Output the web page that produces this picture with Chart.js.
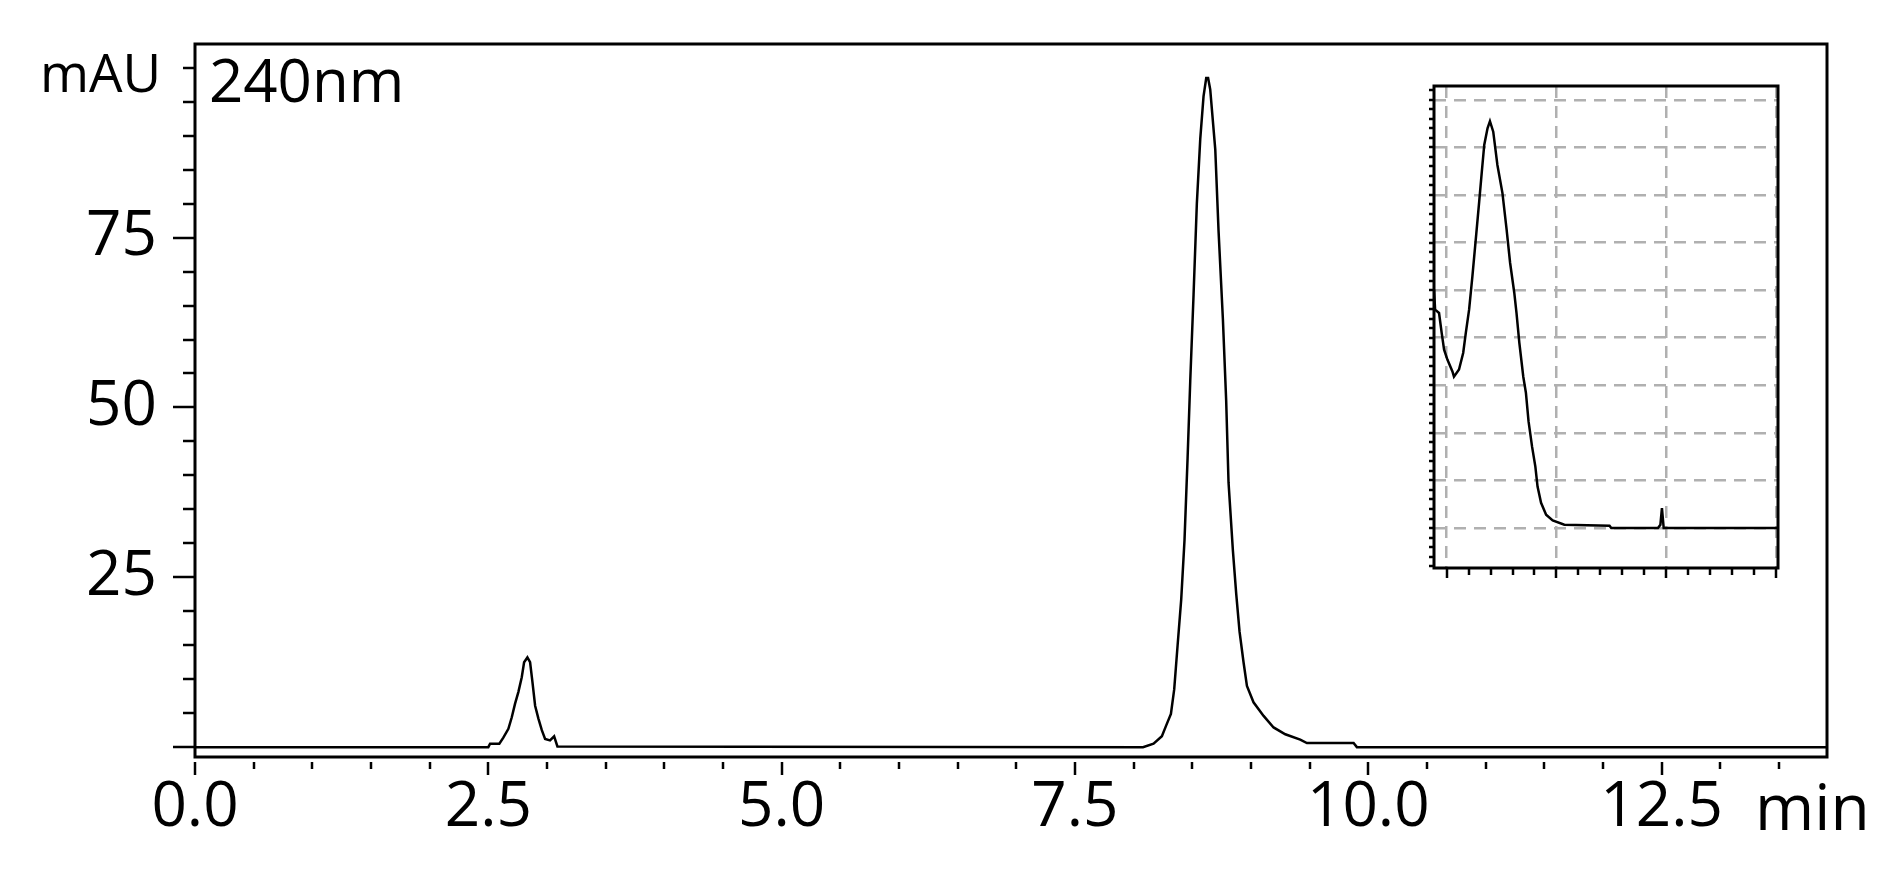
<!DOCTYPE html>
<html>
<head>
<meta charset="utf-8">
<script src="https://cdn.jsdelivr.net/npm/chart.js@4.4.1/dist/chart.umd.min.js"></script>
<style>
    body { margin: 0; background: #fff; }
    #wrap { position: relative; width: 1903px; height: 873px; }
    #inset { position: absolute; left: 1400px; top: 56px; }
</style>
</head>
<body>
<div id="wrap">
    <canvas id="main" width="1903" height="873"></canvas>
    <canvas id="inset" width="420" height="540"></canvas>
</div>
<script>
// chromatogram at 240 nm (min, mAU)
const retentionTime = [0, 2.50, 2.515, 2.594, 2.628, 2.671, 2.700, 2.728, 2.756, 2.785,
    2.805, 2.833, 2.856, 2.876, 2.899, 2.927, 2.956, 2.984, 3.026, 3.061,
    3.089, 8.08, 8.170, 8.241, 8.278, 8.318, 8.346, 8.375, 8.406, 8.434,
    8.460, 8.483, 8.511, 8.539, 8.568, 8.596, 8.619, 8.635, 8.653, 8.696,
    8.724, 8.761, 8.789, 8.809, 8.846, 8.875, 8.903, 8.937, 8.966, 9.022,
    9.108, 9.193, 9.293, 9.420, 9.477, 9.875, 9.903, 13.91];
const absorbance = [0, 0, 0.5, 0.5, 1.4, 2.7, 4.4, 6.4, 8.1, 10.3,
    12.5, 13.2, 12.5, 9.6, 6.1, 4.2, 2.5, 1.2, 1.0, 1.6,
    0.1, 0, 0.5, 1.6, 3.2, 4.9, 8.5, 15, 21.8, 30.5,
    42.5, 54, 66.6, 80, 89.5, 95.8, 98.5, 98.5, 96.8, 88,
    76, 63, 51, 39, 29, 22.5, 17, 12.5, 9, 6.6,
    4.6, 2.9, 1.9, 1.1, 0.6, 0.6, 0, 0];

// spectrum shown in the inset (nm, mAU)
const spectrumNm = [194.2, 194.7, 196.5, 197.7, 198.8, 200.3, 202.6, 203.3, 205.6, 207.5,
    208.7, 210.2, 211.7, 213.5, 214.8, 216.0, 217.1, 218.6, 219.7, 221.2,
    223.1, 225.4, 227.3, 228.9, 230.8, 231.8, 233.1, 234.9, 236.1, 237.3,
    238.9, 240.4, 241.4, 243.0, 245.3, 248.3, 253.6, 274.2, 275.0, 296.3,
    297.4, 298.1, 298.9, 351];
const spectrumAbs = [50.1, 45.9, 45.2, 41.0, 37.5, 35.4, 32.9, 31.8, 33.3, 36.8,
    41.0, 45.9, 52.9, 62.0, 68.6, 74.9, 80.5, 84.0, 85.5, 83.3,
    76.3, 70.4, 62.7, 55.7, 49.4, 45.2, 38.9, 31.8, 28.4, 22.4,
    17.1, 12.9, 8.7, 5.3, 2.8, 1.6, 0.7, 0.5, 0, 0,
    0.7, 4.2, 0, 0];

// tick labels
const xTickLabels = [0, 2.5, 5, 7.5, 10, 12.5];
const yTickLabels = [25, 50, 75];
const insetGridNm = [200, 250, 300, 350];
const insetGridAbs = [0, 10, 20, 30, 40, 50, 60, 70, 80, 90];

Chart.defaults.font.family = "'Open Sans', sans-serif";
Chart.defaults.color = '#000';

const FONT = "'Open Sans', sans-serif";

function tickLine(ctx, x1, y1, x2, y2) {
    ctx.beginPath();
    ctx.moveTo(x1, y1);
    ctx.lineTo(x2, y2);
    ctx.stroke();
}

// keep the plot box where the picture has it
function fixWidth(w) {
    return s => { s.width = w; s.paddingTop = 0; s.paddingBottom = 0; };
}
function fixHeight(h) {
    return s => { s.height = h; s.paddingLeft = 0; s.paddingRight = 0; };
}

// box, tick marks and the loose texts of the main chart
const mainFrame = {
    id: 'mainFrame',
    afterDraw(chart) {
        const { ctx, chartArea: a, scales: { x, y } } = chart;
        ctx.save();
        ctx.strokeStyle = '#000';
        ctx.lineWidth = 3;
        ctx.strokeRect(a.left, a.top, a.right - a.left, a.bottom - a.top);

        ctx.lineWidth = 2.5;
        for (let v = 0; v <= x.max; v += 0.5) {
            const px = Math.round(x.getPixelForValue(v));
            const len = xTickLabels.includes(v) ? 13 : 7;
            tickLine(ctx, px, a.bottom + 5, px, a.bottom + 5 + len);
        }
        for (let v = 0; v <= 100; v += 5) {
            const py = Math.round(y.getPixelForValue(v));
            const len = (v % 25 === 0 && v < 100) ? 22 : 12;
            tickLine(ctx, a.left - len, py, a.left, py);
        }

        ctx.fillStyle = '#000';
        ctx.textBaseline = 'alphabetic';
        ctx.font = '53px ' + FONT;
        ctx.fillText('mAU', 40, 92);
        ctx.font = '60px ' + FONT;
        ctx.fillText('240nm', 209, 102);
        ctx.font = '64px ' + FONT;
        ctx.fillText('min', 1755, 830);
        ctx.restore();
    }
};

new Chart(document.getElementById('main'), {
    type: 'line',
    data: {
        datasets: [{
            data: retentionTime.map((t, i) => ({ x: t, y: absorbance[i] })),
            borderColor: '#000',
            borderWidth: 2.5,
            pointRadius: 0,
            tension: 0
        }]
    },
    options: {
        responsive: false,
        animation: false,
        events: [],
        layout: { padding: { top: 44, right: 76, left: 0, bottom: 0 } },
        plugins: { legend: { display: false }, tooltip: { enabled: false } },
        scales: {
            x: {
                type: 'linear',
                min: 0,
                max: 13.91,
                afterBuildTicks: s => { s.ticks = xTickLabels.map(v => ({ value: v })); },
                afterFit: fixHeight(116),
                grid: { display: false },
                border: { display: false },
                ticks: {
                    maxRotation: 0,
                    autoSkip: false,
                    padding: 6,
                    font: { size: 62 },
                    callback: v => v.toFixed(1)
                }
            },
            y: {
                min: -1.45,
                max: 103.5,
                afterBuildTicks: s => { s.ticks = yTickLabels.map(v => ({ value: v })); },
                afterFit: fixWidth(195),
                grid: { display: false },
                border: { display: false },
                ticks: { padding: 30, font: { size: 62 } }
            }
        }
    },
    plugins: [mainFrame]
});

// frame and small ticks of the inset
const insetFrame = {
    id: 'insetFrame',
    beforeDraw(chart) {
        const { ctx, chartArea: a } = chart;
        ctx.save();
        ctx.fillStyle = '#fff';
        ctx.fillRect(a.left, a.top, a.right - a.left, a.bottom - a.top);
        ctx.restore();
    },
    afterDraw(chart) {
        const { ctx, chartArea: a, scales: { x, y } } = chart;
        ctx.save();
        ctx.strokeStyle = '#000';
        ctx.lineWidth = 3;
        ctx.strokeRect(a.left, a.top, a.right - a.left, a.bottom - a.top);
        ctx.lineWidth = 2.5;
        for (let v = -8; v <= 92; v += 2) {
            const py = Math.round(y.getPixelForValue(v));
            tickLine(ctx, a.left - 5, py, a.left, py);
        }
        for (let v = 200; v <= 350; v += 10) {
            const px = Math.round(x.getPixelForValue(v));
            const len = insetGridNm.includes(v) ? 10 : 7;
            tickLine(ctx, px, a.bottom, px, a.bottom + len);
        }
        ctx.restore();
    }
};

new Chart(document.getElementById('inset'), {
    type: 'line',
    data: {
        datasets: [{
            data: spectrumNm.map((w, i) => ({ x: w, y: spectrumAbs[i] })),
            borderColor: '#000',
            borderWidth: 2.5,
            pointRadius: 0,
            tension: 0
        }]
    },
    options: {
        responsive: false,
        animation: false,
        events: [],
        layout: { padding: { top: 30, right: 42, left: 34, bottom: 28 } },
        plugins: { legend: { display: false }, tooltip: { enabled: false } },
        scales: {
            x: {
                type: 'linear',
                min: 194.2,
                max: 351,
                afterBuildTicks: s => { s.ticks = insetGridNm.map(v => ({ value: v })); },
                afterFit: fixHeight(0),
                ticks: { display: false },
                grid: { color: '#b0b0b0', lineWidth: 2.5, drawTicks: false },
                border: { display: false, dash: [12, 8] }
            },
            y: {
                min: -8.4,
                max: 92.9,
                afterBuildTicks: s => { s.ticks = insetGridAbs.map(v => ({ value: v })); },
                afterFit: fixWidth(0),
                ticks: { display: false },
                grid: { color: '#b0b0b0', lineWidth: 2.5, drawTicks: false },
                border: { display: false, dash: [12, 8] }
            }
        }
    },
    plugins: [insetFrame]
});
</script>
</body>
</html>
